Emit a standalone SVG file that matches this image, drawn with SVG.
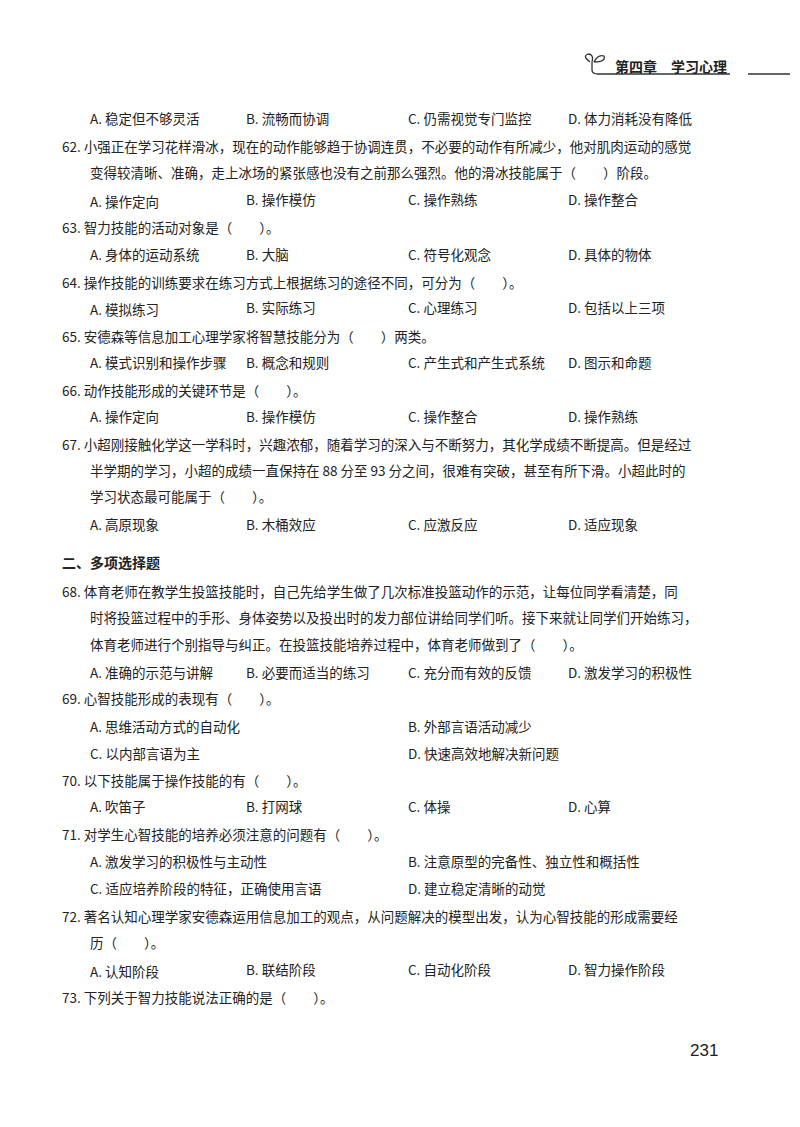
<svg xmlns="http://www.w3.org/2000/svg" width="800" height="1127" viewBox="0 0 800 1127">
<style>
text{font-family:"Noto Sans CJK SC","Liberation Serif",serif;font-size:13.5px;fill:#222}
.h{font-weight:bold;font-size:14px}
</style>
<rect width="800" height="1127" fill="#fff"/>
<g id="header">
<path d="M590 62 q-8 -6 -2 -8 q6 0 4 8 M594 62 q4 -8 10 -6 q2 6 -10 6 M592 62 v8 q0 4 6 4 H730 M748 74 H790" fill="none" stroke="#333" stroke-width="1.3"/>
<text x="615" y="72" class="h">第四章　学习心理</text>
</g>
<g id="content">
<text x="90" y="124">A. 稳定但不够灵活</text><text x="246" y="124">B. 流畅而协调</text><text x="408" y="124">C. 仍需视觉专门监控</text><text x="568" y="124">D. 体力消耗没有降低</text>
<text x="62" y="152">62. 小强正在学习花样滑冰，现在的动作能够趋于协调连贯，不必要的动作有所减少，他对肌肉运动的感觉</text>
<text x="90" y="178">变得较清晰、准确，走上冰场的紧张感也没有之前那么强烈。他的滑冰技能属于（　　）阶段。</text>
<text x="90" y="207">A. 操作定向</text><text x="246" y="205">B. 操作模仿</text><text x="408" y="205">C. 操作熟练</text><text x="568" y="205">D. 操作整合</text>
<text x="62" y="233">63. 智力技能的活动对象是（　　）。</text>
<text x="90" y="260">A. 身体的运动系统</text><text x="246" y="260">B. 大脑</text><text x="408" y="260">C. 符号化观念</text><text x="568" y="260">D. 具体的物体</text>
<text x="62" y="288">64. 操作技能的训练要求在练习方式上根据练习的途径不同，可分为（　　）。</text>
<text x="90" y="315">A. 模拟练习</text><text x="246" y="313">B. 实际练习</text><text x="408" y="313">C. 心理练习</text><text x="568" y="313">D. 包括以上三项</text>
<text x="62" y="342">65. 安德森等信息加工心理学家将智慧技能分为（　　）两类。</text>
<text x="90" y="368">A. 模式识别和操作步骤</text><text x="246" y="368">B. 概念和规则</text><text x="408" y="368">C. 产生式和产生式系统</text><text x="568" y="368">D. 图示和命题</text>
<text x="62" y="396">66. 动作技能形成的关键环节是（　　）。</text>
<text x="90" y="422">A. 操作定向</text><text x="246" y="422">B. 操作模仿</text><text x="408" y="422">C. 操作整合</text><text x="568" y="422">D. 操作熟练</text>
<text x="62" y="450">67. 小超刚接触化学这一学科时，兴趣浓郁，随着学习的深入与不断努力，其化学成绩不断提高。但是经过</text>
<text x="90" y="476">半学期的学习，小超的成绩一直保持在 88 分至 93 分之间，很难有突破，甚至有所下滑。小超此时的</text>
<text x="90" y="502">学习状态最可能属于（　　）。</text>
<text x="90" y="530">A. 高原现象</text><text x="246" y="530">B. 木桶效应</text><text x="408" y="530">C. 应激反应</text><text x="568" y="530">D. 适应现象</text>
<text x="62" y="568" class="h">二、多项选择题</text>
<text x="62" y="597">68. 体育老师在教学生投篮技能时，自己先给学生做了几次标准投篮动作的示范，让每位同学看清楚，同</text>
<text x="90" y="623">时将投篮过程中的手形、身体姿势以及投出时的发力部位讲给同学们听。接下来就让同学们开始练习，</text>
<text x="90" y="650">体育老师进行个别指导与纠正。在投篮技能培养过程中，体育老师做到了（　　）。</text>
<text x="90" y="678">A. 准确的示范与讲解</text><text x="246" y="678">B. 必要而适当的练习</text><text x="408" y="678">C. 充分而有效的反馈</text><text x="568" y="678">D. 激发学习的积极性</text>
<text x="62" y="704">69. 心智技能形成的表现有（　　）。</text>
<text x="90" y="732">A. 思维活动方式的自动化</text><text x="408" y="732">B. 外部言语活动减少</text>
<text x="90" y="759">C. 以内部言语为主</text><text x="408" y="759">D. 快速高效地解决新问题</text>
<text x="62" y="786">70. 以下技能属于操作技能的有（　　）。</text>
<text x="90" y="812">A. 吹笛子</text><text x="246" y="812">B. 打网球</text><text x="408" y="812">C. 体操</text><text x="568" y="812">D. 心算</text>
<text x="62" y="840">71. 对学生心智技能的培养必须注意的问题有（　　）。</text>
<text x="90" y="867">A. 激发学习的积极性与主动性</text><text x="408" y="867">B. 注意原型的完备性、独立性和概括性</text>
<text x="90" y="894">C. 适应培养阶段的特征，正确使用言语</text><text x="408" y="894">D. 建立稳定清晰的动觉</text>
<text x="62" y="922">72. 著名认知心理学家安德森运用信息加工的观点，从问题解决的模型出发，认为心智技能的形成需要经</text>
<text x="90" y="948">历（　　）。</text>
<text x="90" y="977">A. 认知阶段</text><text x="246" y="975">B. 联结阶段</text><text x="408" y="975">C. 自动化阶段</text><text x="568" y="975">D. 智力操作阶段</text>
<text x="62" y="1003">73. 下列关于智力技能说法正确的是（　　）。</text>
<text x="690" y="1056" style="font-family:'Liberation Sans',sans-serif;font-size:17px">231</text>
</g>
</svg>
